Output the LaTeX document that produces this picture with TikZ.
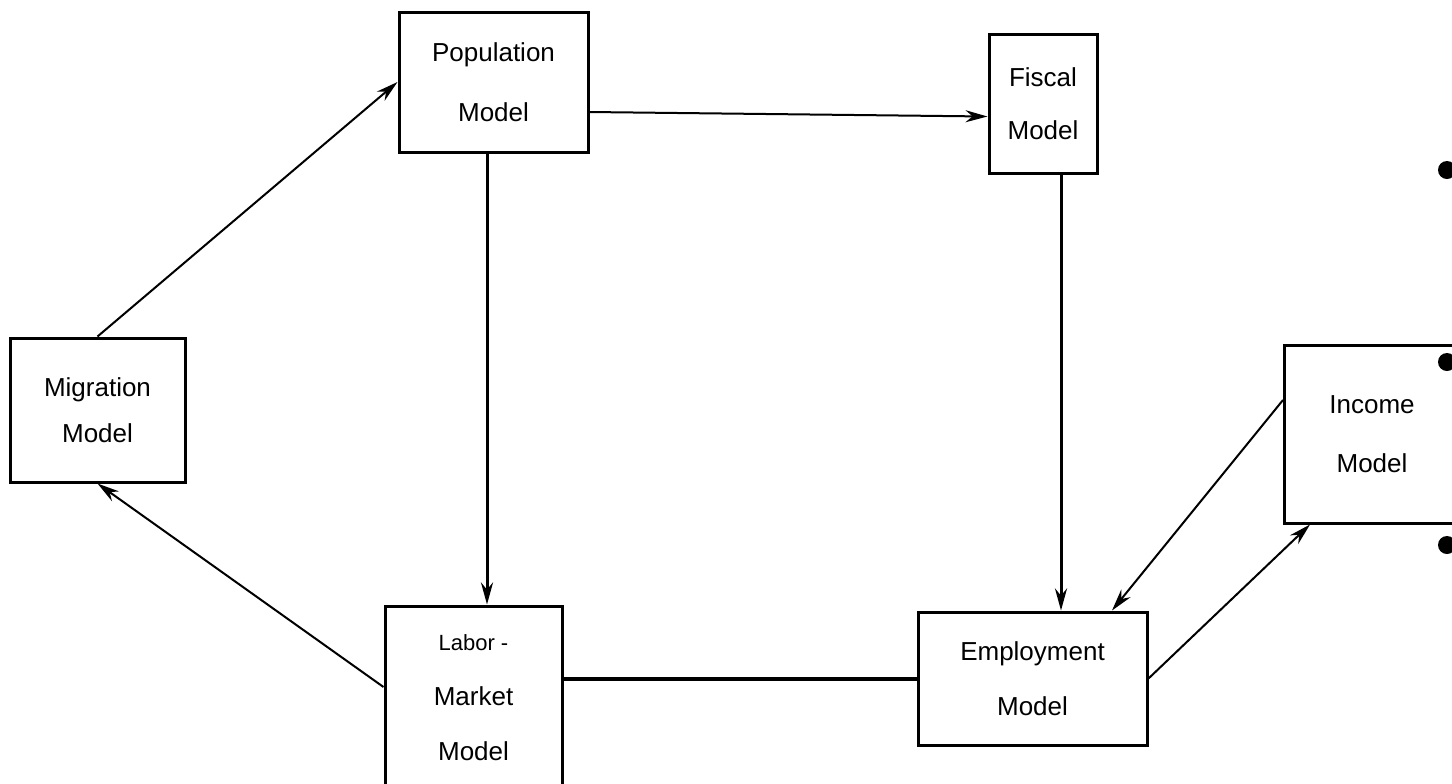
\documentclass[tikz,border=0pt]{standalone}
\usepackage{fontspec}
\setmainfont{Liberation Sans}
\usetikzlibrary{arrows.meta,calc}
\begin{document}
\begin{tikzpicture}[x=0.5pt,y=-0.5pt,
  box/.style={draw,line width=1.5pt,align=center,inner sep=0pt},
  conn/.style={line width=1pt},
  thick conn/.style={line width=1.5pt},
  arr/.style={-{Stealth[length=11pt,width=6pt]}},
  dot/.style={circle,fill=black,inner sep=0pt,minimum size=9pt}]
\useasboundingbox (0,0) rectangle (1452,783);
\clip (0,0) rectangle (1452,783);
\node[box,minimum width=94.5pt,minimum height=70pt,font=\fontsize{13}{30}\selectfont] (pop) at (493.5,82) {Population\\Model};
\node[box,minimum width=54pt,minimum height=69.5pt,font=\fontsize{13}{26.5}\selectfont] (fis) at (1043,103.5) {Fiscal\\Model};
\node[box,minimum width=87.5pt,minimum height=72pt,font=\fontsize{13}{23}\selectfont] (mig) at (97.5,410) {Migration\\Model};
\node[box,minimum width=87.5pt,minimum height=89pt,font=\fontsize{13}{29.5}\selectfont] (inc) at (1372,434) {Income\\Model};
\node[box,minimum width=88.5pt,minimum height=92pt,font=\fontsize{13}{27.5}\selectfont] (lab) at (473.5,698) {{\fontsize{11}{27.5}\selectfont Labor -}\\Market\\Model};
\node[box,minimum width=114.5pt,minimum height=66.5pt,font=\fontsize{13}{27.5}\selectfont] (emp) at (1032.5,678.5) {Employment\\Model};
\node[dot] (d1) at (1447,170) {};
\node[dot] (d2) at (1447,362) {};
\node[dot] (d3) at (1447,545) {};
% connectors
\draw[conn,arr] (mig.north) -- (pop.west);
\draw[conn,arr] ($(pop.east)+(0,30)$) -- ($(fis.west)+(0,13)$);
\draw[thick conn,arr] ($(pop.south)+(-6.5,0)$) coordinate (a) -- (a |- lab.north);
\draw[thick conn,arr] ($(fis.south)+(18,0)$) coordinate (b) -- (b |- emp.north);
\draw[conn,arr] ($(lab.west)+(0,-11)$) -- (mig.south);
\draw[line width=2pt] (lab.east |- emp.west) -- (emp.west);
\draw[conn,arr] ($(inc.west)+(0,-34)$) -- ($(emp.north)+(79.5,0)$);
\draw[conn,arr] (emp.east) -- ($(inc.south)+(-62,0)$);
\end{tikzpicture}
\end{document}
